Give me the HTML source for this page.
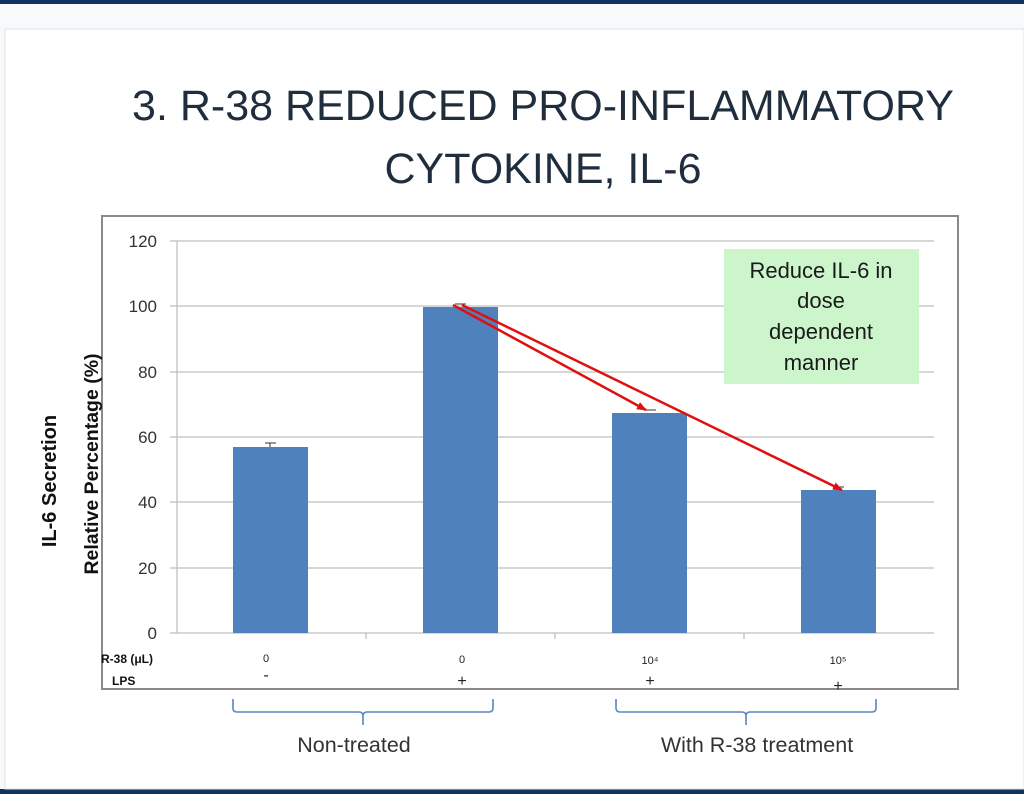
<!DOCTYPE html>
<html><head><meta charset="utf-8"><style>
body{margin:0;width:1024px;height:794px;overflow:hidden;background:#f7f9fb;font-family:"Liberation Sans",sans-serif}
</style></head><body>
<svg width="1024" height="794" xmlns="http://www.w3.org/2000/svg" style="position:absolute;left:0;top:0">
<rect x="0" y="0" width="1024" height="4" fill="#0f3461"/>
<rect x="0" y="789" width="1024" height="5" fill="#0f3461"/>
<rect x="5" y="29" width="1019" height="760" fill="#fff" stroke="#e2e2e2"/>
<text x="543" y="120" font-size="43" fill="#1f2d3d" text-anchor="middle" font-family="Liberation Sans, sans-serif">3. R-38 REDUCED PRO-INFLAMMATORY</text>
<text x="543" y="183" font-size="43" fill="#1f2d3d" text-anchor="middle">CYTOKINE, IL-6</text>
<rect x="102" y="216" width="856" height="473" fill="#fff" stroke="#8a8a8a" stroke-width="2"/>
<g stroke="#bfbfbf" stroke-width="1.3">
<line x1="170" x2="934" y1="241" y2="241"/><line x1="170" x2="934" y1="306" y2="306"/>
<line x1="170" x2="934" y1="372" y2="372"/><line x1="170" x2="934" y1="437" y2="437"/>
<line x1="170" x2="934" y1="502" y2="502"/><line x1="170" x2="934" y1="568" y2="568"/>
<line x1="170" x2="934" y1="633" y2="633"/><line x1="177" x2="177" y1="241" y2="633"/>
<line x1="366" x2="366" y1="633" y2="639"/><line x1="555" x2="555" y1="633" y2="639"/><line x1="744" x2="744" y1="633" y2="639"/>
</g>
<g font-size="17" fill="#333" text-anchor="end">
<text x="157" y="247">120</text><text x="157" y="312">100</text><text x="157" y="378">80</text>
<text x="157" y="443">60</text><text x="157" y="508">40</text><text x="157" y="574">20</text><text x="157" y="639">0</text>
</g>
<g fill="#4f81bd">
<rect x="233" y="447" width="75" height="186"/><rect x="423" y="307" width="75" height="326"/>
<rect x="612" y="413" width="75" height="220"/><rect x="801" y="490" width="75" height="143"/>
</g>
<g stroke="#333" stroke-width="1"><line x1="265" x2="276" y1="443" y2="443"/><line x1="270" x2="270" y1="443" y2="447"/>
<line x1="455" x2="466" y1="304" y2="304"/><line x1="645" x2="656" y1="410" y2="410"/><line x1="833" x2="844" y1="487" y2="487"/></g>
<rect x="724" y="249" width="195" height="135" fill="#ccf5cc"/>
<g font-size="22" fill="#1a1a1a" text-anchor="middle"><text x="821" y="278">Reduce IL-6 in</text><text x="821" y="308">dose</text><text x="821" y="339">dependent</text><text x="821" y="370">manner</text></g>
<defs><marker id="a" markerWidth="10" markerHeight="8" refX="9" refY="4" orient="auto" markerUnits="userSpaceOnUse"><path d="M0,0L10,4L0,8z" fill="#e01010"/></marker></defs>
<g stroke="#e01010" stroke-width="2.5"><line x1="453" y1="305" x2="646" y2="410" marker-end="url(#a)"/><line x1="462" y1="305" x2="842" y2="490" marker-end="url(#a)"/></g>
<text transform="translate(56,481) rotate(-90)" font-size="20" font-weight="bold" fill="#111" text-anchor="middle">IL-6 Secretion</text>
<text transform="translate(98,464) rotate(-90)" font-size="19.5" font-weight="bold" fill="#111" text-anchor="middle">Relative Percentage (%)</text>
<g font-size="12" font-weight="bold" fill="#111"><text x="101" y="663">R-38 (μL)</text><text x="112" y="685">LPS</text></g>
<g font-size="11" fill="#222" text-anchor="middle"><text x="266" y="662">0</text><text x="462" y="663">0</text><text x="650" y="664">10⁴</text><text x="838" y="664">10⁵</text></g>
<g font-size="16" fill="#222" text-anchor="middle"><text x="266" y="680">-</text><text x="462" y="686">+</text><text x="650" y="686">+</text><text x="838" y="691">+</text></g>
<g fill="none" stroke="#5a86c0" stroke-width="1.6">
<path d="M233,699v9q0,4 4,4h122q4,0 4,4v9M363,716q0,-4 4,-4h122q4,0 4,-4v-9"/>
<path d="M616,699v9q0,4 4,4h122q4,0 4,4v9M746,716q0,-4 4,-4h122q4,0 4,-4v-9"/>
</g>
<g font-size="21.5" fill="#333" text-anchor="middle"><text x="354" y="752">Non-treated</text><text x="757" y="752">With R-38 treatment</text></g>
</svg>
</body></html>
